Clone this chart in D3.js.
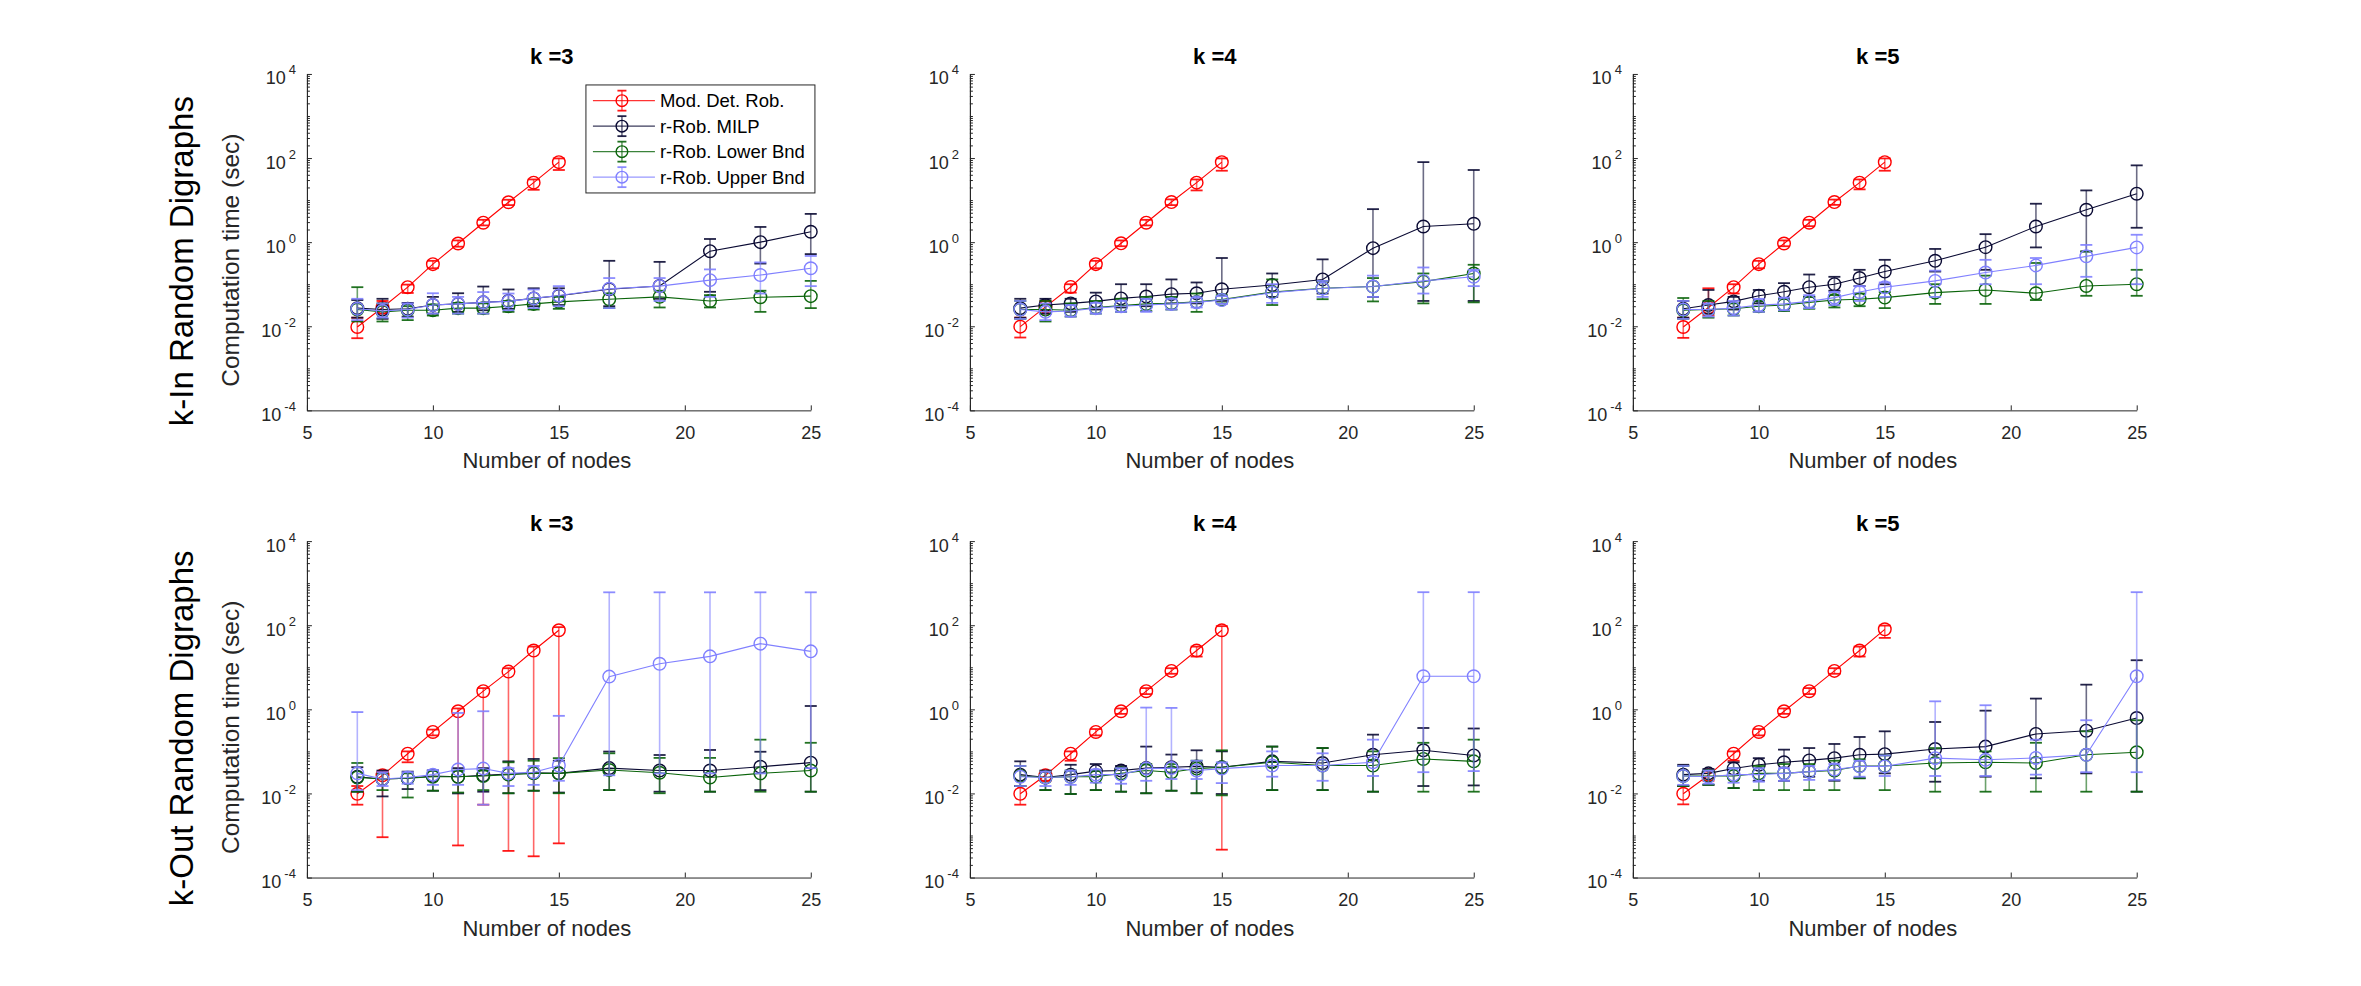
<!DOCTYPE html>
<html>
<head>
<meta charset="utf-8">
<script src="https://cdn.jsdelivr.net/npm/d3@7"></script>
<style>
  body { margin: 0; background: #fff; }
  svg { display: block; font-family: "Liberation Sans", Arial, Helvetica, sans-serif; }
</style>
</head>
<body>
<script>
var nodes = [7, 8, 9, 10, 11, 12, 13, 14, 15, 17, 19, 21, 23, 25];
var detNodes = [7, 8, 9, 10, 11, 12, 13, 14, 15];
var xTicks = [5, 10, 15, 20, 25];
var yTicks = [1e-4, 1e-2, 1, 1e2, 1e4];
var yExps = ["-4", "-2", "0", "2", "4"];
var titles = ["k =3", "k =4", "k =5"];
var rowLabels = ["k-In Random Digraphs", "k-Out Random Digraphs"];
var seriesNames = ["Mod. Det. Rob.", "r-Rob. MILP", "r-Rob. Lower Bnd", "r-Rob. Upper Bnd"];
var colors = ["#ff0000", "#0a0a33", "#0a640a", "#8080ff"];

// each point: [mean, bottom of bar, top of bar]  (seconds)
// ---- k-In, k = 3
var inK3Det = [[0.0096,0.0052,0.016],[0.028,0.02,0.04],[0.085,0.062,0.098],[0.30,0.24,0.36],[0.93,0.78,1.1],[2.9,2.5,3.4],[8.9,7.6,10.2],[26,17.6,31],[80,52,98]];
var inK3Milp = [[0.027,0.016,0.042],[0.025,0.015,0.045],[0.026,0.017,0.036],[0.032,0.02,0.05],[0.034,0.022,0.061],[0.037,0.024,0.088],[0.040,0.026,0.075],[0.046,0.03,0.08],[0.053,0.032,0.08],[0.076,0.03,0.36],[0.091,0.045,0.34],[0.61,0.066,1.19],[1.0,0.31,2.3],[1.77,0.52,4.7]];
var inK3Low = [[0.025,0.013,0.085],[0.022,0.013,0.035],[0.024,0.014,0.03],[0.024,0.018,0.033],[0.027,0.02,0.036],[0.027,0.02,0.035],[0.030,0.022,0.04],[0.034,0.025,0.045],[0.038,0.026,0.05],[0.044,0.027,0.06],[0.05,0.028,0.07],[0.04,0.028,0.055],[0.049,0.022,0.07],[0.052,0.027,0.12]];
var inK3Up = [[0.026,0.014,0.045],[0.023,0.016,0.035],[0.025,0.016,0.035],[0.032,0.02,0.061],[0.034,0.02,0.05],[0.037,0.02,0.065],[0.039,0.024,0.06],[0.046,0.027,0.075],[0.054,0.03,0.09],[0.078,0.027,0.14],[0.09,0.04,0.14],[0.125,0.05,0.225],[0.165,0.06,0.33],[0.24,0.09,0.47]];
// ---- k-In, k = 4
var inK4Det = [[0.0098,0.0054,0.016],[0.029,0.02,0.04],[0.086,0.063,0.1],[0.30,0.24,0.36],[0.94,0.8,1.1],[2.9,2.5,3.4],[9.0,7.6,10.4],[26,17,31],[80,50,98]];
var inK4Milp = [[0.027,0.016,0.045],[0.032,0.02,0.045],[0.035,0.022,0.045],[0.039,0.025,0.063],[0.046,0.028,0.10],[0.051,0.03,0.10],[0.058,0.035,0.13],[0.061,0.035,0.11],[0.076,0.04,0.42],[0.096,0.05,0.18],[0.13,0.06,0.39],[0.72,0.05,6.1],[2.36,0.04,80],[2.73,0.04,52]];
var inK4Low = [[0.025,0.015,0.04],[0.025,0.013,0.04],[0.024,0.017,0.035],[0.028,0.02,0.04],[0.031,0.022,0.045],[0.034,0.023,0.05],[0.035,0.025,0.05],[0.038,0.022,0.06],[0.043,0.035,0.055],[0.065,0.032,0.13],[0.08,0.044,0.12],[0.088,0.039,0.14],[0.115,0.035,0.18],[0.18,0.037,0.29]];
var inK4Up = [[0.025,0.015,0.04],[0.022,0.014,0.035],[0.023,0.017,0.032],[0.027,0.02,0.036],[0.03,0.022,0.04],[0.032,0.022,0.045],[0.034,0.025,0.045],[0.037,0.028,0.048],[0.042,0.034,0.052],[0.063,0.036,0.1],[0.079,0.05,0.12],[0.088,0.05,0.16],[0.12,0.06,0.25],[0.15,0.09,0.22]];
// ---- k-In, k = 5
var inK5Det = [[0.0096,0.0053,0.016],[0.028,0.018,0.08],[0.085,0.06,0.1],[0.30,0.24,0.36],[0.93,0.8,1.1],[2.9,2.4,3.4],[9.0,7.7,10.3],[26,18,31],[80,50,98]];
var inK5Milp = [[0.026,0.016,0.04],[0.032,0.02,0.073],[0.039,0.025,0.05],[0.053,0.035,0.073],[0.066,0.045,0.106],[0.085,0.05,0.17],[0.10,0.07,0.15],[0.14,0.09,0.22],[0.20,0.1,0.38],[0.36,0.2,0.69],[0.76,0.22,1.55],[2.36,0.75,8.2],[5.9,0.6,17],[14.2,2.2,67]];
var inK5Low = [[0.024,0.015,0.047],[0.025,0.016,0.04],[0.026,0.018,0.035],[0.03,0.022,0.04],[0.032,0.023,0.045],[0.037,0.026,0.05],[0.042,0.028,0.055],[0.044,0.03,0.06],[0.048,0.027,0.065],[0.063,0.034,0.1],[0.073,0.034,0.16],[0.061,0.042,0.32],[0.091,0.053,0.6],[0.1,0.053,0.22]];
var inK5Up = [[0.025,0.015,0.04],[0.025,0.017,0.035],[0.027,0.018,0.04],[0.032,0.022,0.045],[0.034,0.024,0.048],[0.039,0.027,0.055],[0.048,0.032,0.065],[0.065,0.04,0.09],[0.085,0.05,0.11],[0.12,0.05,0.21],[0.19,0.1,0.38],[0.28,0.1,0.42],[0.46,0.15,0.86],[0.75,0.1,1.5]];
// ---- k-Out, k = 3
var outK3Det = [[0.0098,0.0054,0.015],[0.027,0.00091,0.033],[0.088,0.055,0.10],[0.29,0.24,0.33],[0.9,0.00058,1.05],[2.7,0.0054,3.2],[7.9,0.00043,9.5],[25,0.00032,31],[76,0.00065,90]];
var outK3Milp = [[0.025,0.011,0.042],[0.022,0.0085,0.035],[0.023,0.0127,0.033],[0.026,0.0116,0.035],[0.025,0.010,0.04],[0.027,0.011,0.04],[0.029,0.0101,0.058],[0.031,0.0116,0.066],[0.030,0.0105,0.06],[0.040,0.012,0.099],[0.035,0.011,0.082],[0.035,0.011,0.108],[0.043,0.012,0.098],[0.054,0.011,1.2]];
var outK3Low = [[0.024,0.011,0.053],[0.022,0.012,0.03],[0.023,0.008,0.03],[0.025,0.0116,0.035],[0.025,0.0105,0.035],[0.026,0.012,0.035],[0.028,0.0101,0.055],[0.03,0.0116,0.06],[0.03,0.0101,0.069],[0.036,0.012,0.09],[0.031,0.0101,0.07],[0.024,0.011,0.07],[0.03,0.011,0.19],[0.035,0.011,0.16]];
var outK3Up = [[0.030,0.012,0.86],[0.022,0.015,0.032],[0.024,0.017,0.032],[0.028,0.016,0.036],[0.037,0.016,0.82],[0.039,0.0054,0.9],[0.03,0.015,0.04],[0.032,0.016,0.045],[0.046,0.02,0.7],[6.0,0.027,606],[12.1,0.03,606],[18.2,0.03,606],[36.5,0.03,606],[23.9,0.04,606]];
// ---- k-Out, k = 4
var outK4Det = [[0.0098,0.0054,0.015],[0.027,0.02,0.033],[0.088,0.06,0.1],[0.29,0.24,0.34],[0.9,0.78,1.05],[2.7,2.3,3.2],[8.2,7,9.5],[25,18,31],[76,0.00046,95]];
var outK4Milp = [[0.028,0.015,0.058],[0.024,0.012,0.035],[0.028,0.0097,0.048],[0.034,0.012,0.05],[0.035,0.011,0.045],[0.040,0.0101,0.13],[0.042,0.0116,0.084],[0.044,0.0101,0.106],[0.042,0.0097,0.1],[0.058,0.012,0.13],[0.053,0.012,0.12],[0.083,0.011,0.25],[0.106,0.015,0.36],[0.080,0.0155,0.35]];
var outK4Low = [[0.026,0.015,0.045],[0.024,0.012,0.033],[0.025,0.0097,0.035],[0.025,0.012,0.035],[0.03,0.011,0.04],[0.035,0.0101,0.05],[0.032,0.0116,0.05],[0.039,0.0101,0.06],[0.042,0.009,0.106],[0.055,0.012,0.13],[0.046,0.012,0.12],[0.046,0.011,0.1],[0.066,0.011,0.16],[0.058,0.011,0.19]];
var outK4Up = [[0.025,0.015,0.045],[0.024,0.015,0.033],[0.025,0.016,0.035],[0.028,0.018,0.037],[0.028,0.017,0.04],[0.039,0.02,1.1],[0.040,0.022,1.08],[0.035,0.022,0.06],[0.039,0.0176,0.055],[0.046,0.025,0.1],[0.046,0.02,0.09],[0.055,0.026,0.19],[6.1,0.032,610],[6.1,0.034,610]];
// ---- k-Out, k = 5
var outK5Det = [[0.0098,0.0055,0.015],[0.027,0.02,0.033],[0.088,0.06,0.1],[0.29,0.24,0.34],[0.9,0.78,1.05],[2.7,2.3,3.2],[8.2,7,9.5],[25,18,31],[80,50,98]];
var outK5Milp = [[0.028,0.015,0.048],[0.030,0.016,0.038],[0.039,0.0134,0.055],[0.048,0.02,0.069],[0.055,0.02,0.11],[0.061,0.025,0.12],[0.069,0.02,0.15],[0.083,0.023,0.22],[0.086,0.03,0.30],[0.114,0.019,0.50],[0.13,0.025,0.93],[0.26,0.023,1.8],[0.31,0.03,3.86],[0.62,0.011,14.7]];
var outK5Low = [[0.026,0.015,0.045],[0.026,0.016,0.035],[0.026,0.0134,0.04],[0.030,0.012,0.045],[0.030,0.012,0.05],[0.033,0.012,0.05],[0.035,0.012,0.06],[0.045,0.023,0.065],[0.045,0.012,0.08],[0.053,0.011,0.12],[0.055,0.011,0.1],[0.053,0.011,0.16],[0.083,0.011,0.3],[0.095,0.011,0.55]];
var outK5Up = [[0.026,0.016,0.045],[0.025,0.017,0.035],[0.028,0.018,0.04],[0.028,0.019,0.04],[0.030,0.02,0.04],[0.033,0.021,0.045],[0.037,0.021,0.05],[0.044,0.025,0.06],[0.044,0.026,0.08],[0.069,0.026,1.55],[0.063,0.026,1.25],[0.07,0.028,0.19],[0.083,0.032,0.55],[6.1,0.032,610]];

var panels = [
  { row: 0, col: 0, series: [inK3Det, inK3Milp, inK3Low, inK3Up] },
  { row: 0, col: 1, series: [inK4Det, inK4Milp, inK4Low, inK4Up] },
  { row: 0, col: 2, series: [inK5Det, inK5Milp, inK5Low, inK5Up] },
  { row: 1, col: 0, series: [outK3Det, outK3Milp, outK3Low, outK3Up] },
  { row: 1, col: 1, series: [outK4Det, outK4Milp, outK4Low, outK4Up] },
  { row: 1, col: 2, series: [outK5Det, outK5Milp, outK5Low, outK5Up] }
];

var W = 2361, H = 986;
var axisColor = "#262626";
// matlab default subplot positions
var lefts = [0.13, 0.4108, 0.6916].map(function(f) { return f * W; });
var pw = 0.2134 * W, ph = 0.3412 * H;
var tops = [H * (1 - 0.5838 - 0.3412), H * (1 - 0.11 - 0.3412)];

var svg = d3.select("body").append("svg")
            .attr("width", W)
            .attr("height", H);

var x = d3.scaleLinear().domain([5, 25]).range([0, pw]);
var y = d3.scaleLog().domain([1e-4, 1e4]).range([ph, 0]);
var minorTicks = y.ticks().filter(function(v) {
  return !yTicks.some(function(t) { return Math.abs(v - t) / t < 1e-9; });
});

function styleAxis(sel) {
  sel.selectAll("path, line").attr("stroke", axisColor).attr("stroke-width", 1);
  sel.selectAll("text").attr("fill", axisColor).attr("font-size", 18)
     .attr("font-family", "Liberation Sans, Arial, sans-serif");
}

panels.forEach(function(p) {
  var g = svg.append("g")
             .attr("transform", "translate(" + lefts[p.col] + "," + tops[p.row] + ")");

  // axes (ticks inward, no box)
  g.append("g")
   .call(d3.axisLeft(y).tickValues(minorTicks).tickSizeInner(-3).tickSizeOuter(0).tickFormat(""))
   .call(styleAxis);
  g.append("g")
   .call(d3.axisLeft(y).tickValues(yTicks).tickSizeInner(-5).tickSizeOuter(0).tickFormat(""))
   .call(styleAxis);
  g.append("g")
   .attr("transform", "translate(0," + ph + ")")
   .call(d3.axisBottom(x).tickValues(xTicks).tickSizeInner(-5).tickSizeOuter(0).tickPadding(16).tickFormat(d3.format("d")))
   .call(styleAxis);

  // y tick labels 10^n
  var yl = g.append("g").attr("fill", axisColor);
  yTicks.forEach(function(t, i) {
    var tx = yl.append("text")
               .attr("x", -11)
               .attr("y", y(t) + 10.5)
               .attr("text-anchor", "end")
               .attr("font-size", 18);
    tx.append("tspan").text("10");
    tx.append("tspan").attr("dx", 3).attr("dy", -10).attr("font-size", 13).text(yExps[i]);
  });

  // title
  g.append("text")
   .attr("x", pw / 2 - 7)
   .attr("y", -10)
   .attr("text-anchor", "middle")
   .attr("font-size", 22)
   .attr("font-weight", "bold")
   .attr("fill", "#000")
   .text(titles[p.col]);

  // x label
  g.append("text")
   .attr("x", pw / 2 - 12)
   .attr("y", ph + 58)
   .attr("text-anchor", "middle")
   .attr("font-size", 22)
   .attr("fill", axisColor)
   .text("Number of nodes");

  if (p.col === 0) {
    g.append("text")
     .attr("transform", "translate(-68," + (ph / 2 + 18) + ") rotate(-90)")
     .attr("text-anchor", "middle")
     .attr("font-size", 24.5)
     .attr("fill", axisColor)
     .text("Computation time (sec)");
    g.append("text")
     .attr("transform", "translate(-114," + (ph / 2 + 19) + ") rotate(-90)")
     .attr("text-anchor", "middle")
     .attr("font-size", 33)
     .attr("fill", "#000")
     .text(rowLabels[p.row]);
  }

  // data series
  p.series.forEach(function(s, si) {
    var xs = si === 0 ? detNodes : nodes;
    var pts = s.map(function(d, i) { return { n: xs[i], m: d[0], lo: d[1], hi: d[2] }; });
    var c = colors[si];
    var sg = g.append("g");

    sg.selectAll("line.bar").data(pts).join("line")
      .attr("x1", function(d) { return x(d.n); })
      .attr("x2", function(d) { return x(d.n); })
      .attr("y1", function(d) { return y(d.lo); })
      .attr("y2", function(d) { return y(d.hi); })
      .attr("stroke", c).attr("stroke-width", 1.6).attr("stroke-opacity", 0.6);

    [ "lo", "hi" ].forEach(function(k) {
      sg.selectAll("line.cap" + k).data(pts).join("line")
        .attr("x1", function(d) { return x(d.n) - 6; })
        .attr("x2", function(d) { return x(d.n) + 6; })
        .attr("y1", function(d) { return y(d[k]); })
        .attr("y2", function(d) { return y(d[k]); })
        .attr("stroke", c).attr("stroke-width", 1.8).attr("stroke-opacity", 0.9);
    });

    sg.append("path").datum(pts)
      .attr("d", d3.line().x(function(d) { return x(d.n); }).y(function(d) { return y(d.m); }))
      .attr("fill", "none")
      .attr("stroke", c).attr("stroke-width", 1.1);

    sg.selectAll("circle").data(pts).join("circle")
      .attr("cx", function(d) { return x(d.n); })
      .attr("cy", function(d) { return y(d.m); })
      .attr("r", 6.3)
      .attr("fill", "none")
      .attr("stroke", c).attr("stroke-width", 1.4);
  });

  // legend on first panel
  if (p.row === 0 && p.col === 0) {
    var lg = g.append("g").attr("transform", "translate(279,11)");
    lg.append("rect")
      .attr("width", 229).attr("height", 108)
      .attr("fill", "#fff")
      .attr("stroke", axisColor).attr("stroke-width", 1);
    seriesNames.forEach(function(name, i) {
      var ry = 15.7 + i * 25.5;
      var c = colors[i];
      lg.append("line").attr("x1", 7).attr("x2", 69).attr("y1", ry).attr("y2", ry)
        .attr("stroke", c).attr("stroke-width", 1.1).attr("stroke-opacity", 0.8);
      lg.append("line").attr("x1", 36).attr("x2", 36).attr("y1", ry - 10).attr("y2", ry + 10)
        .attr("stroke", c).attr("stroke-width", 1.6).attr("stroke-opacity", 0.6);
      [-10, 10].forEach(function(o) {
        lg.append("line").attr("x1", 31.5).attr("x2", 40.5).attr("y1", ry + o).attr("y2", ry + o)
          .attr("stroke", c).attr("stroke-width", 1.8).attr("stroke-opacity", 0.9);
      });
      lg.append("circle").attr("cx", 36).attr("cy", ry).attr("r", 5.8)
        .attr("fill", "none").attr("stroke", c).attr("stroke-width", 1.4);
      lg.append("text").attr("x", 74).attr("y", ry + 6.5)
        .attr("font-size", 18.5).attr("fill", "#000")
        .text(name);
    });
  }
});
</script>
</body>
</html>
